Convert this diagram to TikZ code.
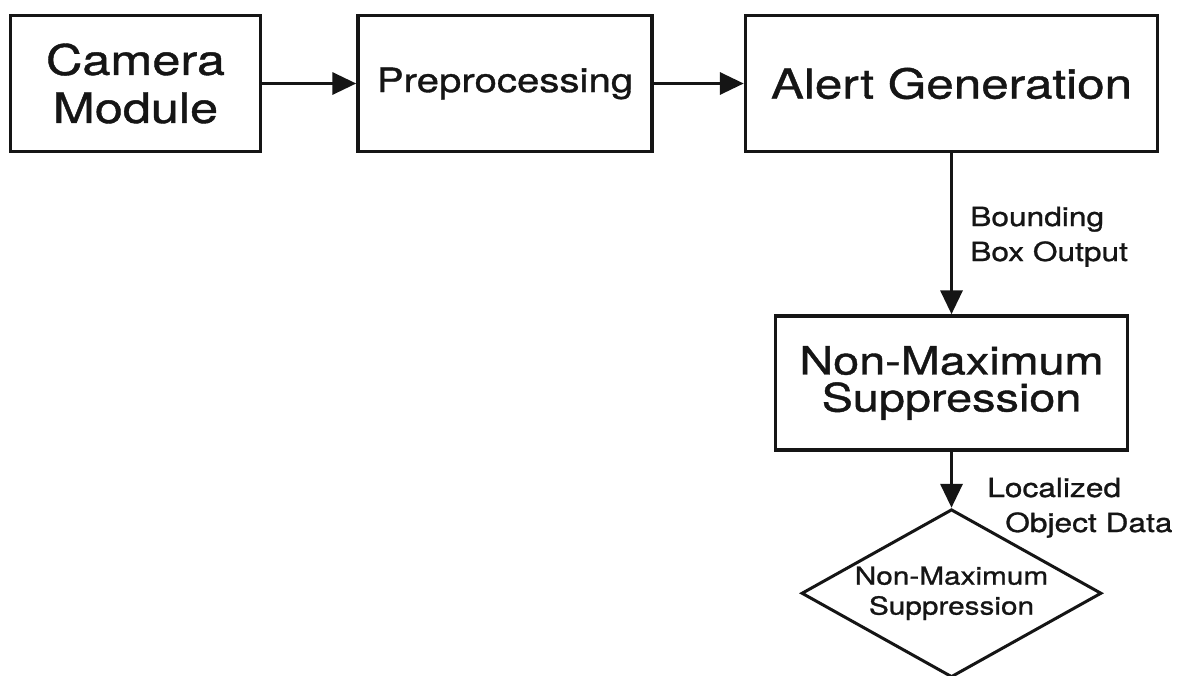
\documentclass[tikz,border=0pt]{standalone}
\usepackage{fontspec}
\setmainfont{TeX Gyre Heros}[FakeStretch=1.2,FakeBold=1.0]
\usepackage{tikz}
\usetikzlibrary{arrows.meta,positioning,shapes.geometric}
\definecolor{DiagInk}{HTML}{151515}
\tikzset{
  stagebox/.style={draw=DiagInk,line width=1.75pt,align=center,inner sep=0pt,text=DiagInk},
  decisionbox/.style={diamond,draw=DiagInk,line width=1.5pt,align=center,inner sep=0pt,aspect=1.8,minimum width=150pt,minimum height=84pt,text=DiagInk,font=\fontsize{12.4}{15}\selectfont},
  dataarrow/.style={-{Triangle[length=12pt,width=11pt]},line width=1.75pt,draw=DiagInk},
  edgelabel/.style={align=left,inner sep=0pt,text=DiagInk,font=\fontsize{13.2}{17.5}\selectfont}
}

\begin{document}
\begin{tikzpicture}[x=0.5pt,y=-0.5pt]
\path[use as bounding box,fill=white] (0,0) rectangle (1177,675);
\node[stagebox,minimum width=125pt,minimum height=68pt,font=\fontsize{21}{24}\selectfont] (cam) at (135.5,83.5) {Camera\\Module};
\node[stagebox,minimum width=147pt,minimum height=68pt,font=\fontsize{16.75}{20}\selectfont,right=47pt of cam] (prep) {Preprocessing};
\node[stagebox,minimum width=206pt,minimum height=68pt,font=\fontsize{20.6}{24}\selectfont,right=45pt of prep] (alert) {Alert Generation};
\node[stagebox,minimum width=176pt,minimum height=67pt,font=\fontsize{19.5}{18.5}\selectfont,below=80.5pt of alert] (nms) {Non-Maximum\\Suppression};
\node[decisionbox,below=28pt of nms] (nmsdec) {Non-Maximum\\Suppression};
\draw[dataarrow] (cam) -- (prep);
\draw[dataarrow] (prep) -- (alert);
\draw[dataarrow] (alert) -- (nms) node[edgelabel,midway,anchor=west,xshift=8.5pt,yshift=-1.5pt] {Bounding\\Box Output};
\draw[dataarrow] (nms) -- (nmsdec) node[edgelabel,pos=1,anchor=west,xshift=17pt] {Localized\\\hspace*{9pt}Object Data};
\end{tikzpicture}
\end{document}
